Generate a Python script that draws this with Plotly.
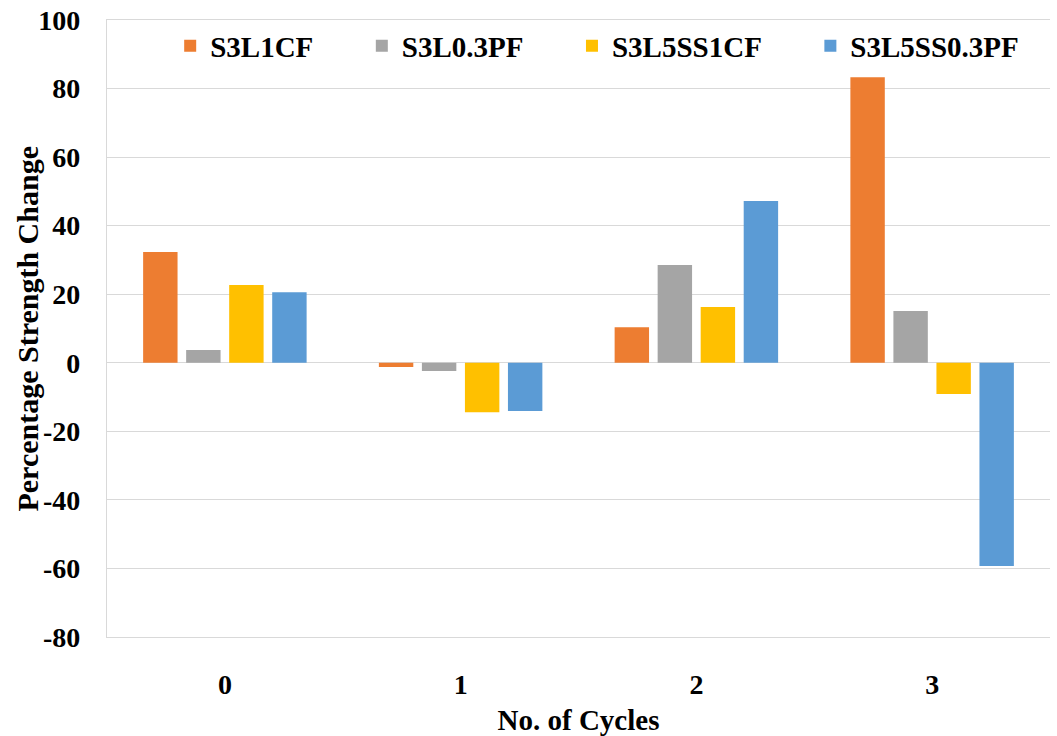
import plotly.graph_objects as go

cycles = ["0", "1", "2", "3"]
series_names = ["S3L1CF", "S3L0.3PF", "S3L5SS1CF", "S3L5SS0.3PF"]
s3l1cf = [32.3, -1.2, 10.4, 83.3]
s3l03pf = [3.7, -2.4, 28.5, 15.1]
s3l5ss1cf = [22.7, -14.4, 16.3, -9.1]
s3l5ss03pf = [20.6, -14.1, 47.2, -59.3]
colors = ["#ED7D31", "#A5A5A5", "#FFC000", "#5B9BD5"]
y_ticks = [-80, -60, -40, -20, 0, 20, 40, 60, 80, 100]

FONT = "Liberation Serif"
PAD = "\u00a0" * 6  # spacing between legend entries

fig = go.Figure()
for i, (name, vals, col) in enumerate(zip(series_names, [s3l1cf, s3l03pf, s3l5ss1cf, s3l5ss03pf], colors)):
    label = name + (PAD if i < len(series_names) - 1 else "")
    fig.add_trace(go.Bar(x=cycles, y=vals, name=label, marker=dict(color=col, line=dict(width=0))))

fig.update_layout(
    width=1057, height=736,
    margin=dict(l=107, r=7, t=20, b=99, autoexpand=False),
    plot_bgcolor="white", paper_bgcolor="white",
    barmode="group", bargap=0.27, bargroupgap=0.2,
    font=dict(family=FONT, color="black"),
    legend=dict(orientation="h", x=0.067, xanchor="left", y=0.958, yanchor="middle",
                font=dict(family=FONT, size=29, color="black", weight="bold"),
                bgcolor="rgba(0,0,0,0)", tracegroupgap=0),
    xaxis=dict(
        automargin=False,
        showgrid=False, showline=True, mirror=True, linecolor="#D9D9D9", linewidth=1.3,
        ticks="", ticklabeloverflow="allow",
        tickfont=dict(family=FONT, size=28, color="black", weight="bold"),
        ticklabelstandoff=22,
        title=dict(text="<b>No. of Cycles</b>", font=dict(family=FONT, size=29, color="black"), standoff=14),
    ),
    yaxis=dict(
        automargin=False,
        range=[-80, 100], tickvals=y_ticks, ticktext=[str(v) for v in y_ticks],
        showgrid=True, gridcolor="#D9D9D9", gridwidth=1.3,
        zeroline=True, zerolinecolor="#D9D9D9", zerolinewidth=1.3,
        showline=True, linecolor="#D9D9D9", linewidth=1.3,
        ticks="", ticklen=0, ticklabelstandoff=20, ticklabeloverflow="allow",
        tickfont=dict(family=FONT, size=28, color="black", weight="bold"),
    ),
    annotations=[dict(
        text="<b>Percentage Strength Change</b>", textangle=-90,
        xref="paper", yref="paper", x=-0.0848, y=0.5, xanchor="center", yanchor="middle",
        showarrow=False, font=dict(family=FONT, size=30, color="black"),
    )],
)
fig.write_html("out.html", config={"displayModeBar": False},
               post_script="document.body.style.margin='0';")
